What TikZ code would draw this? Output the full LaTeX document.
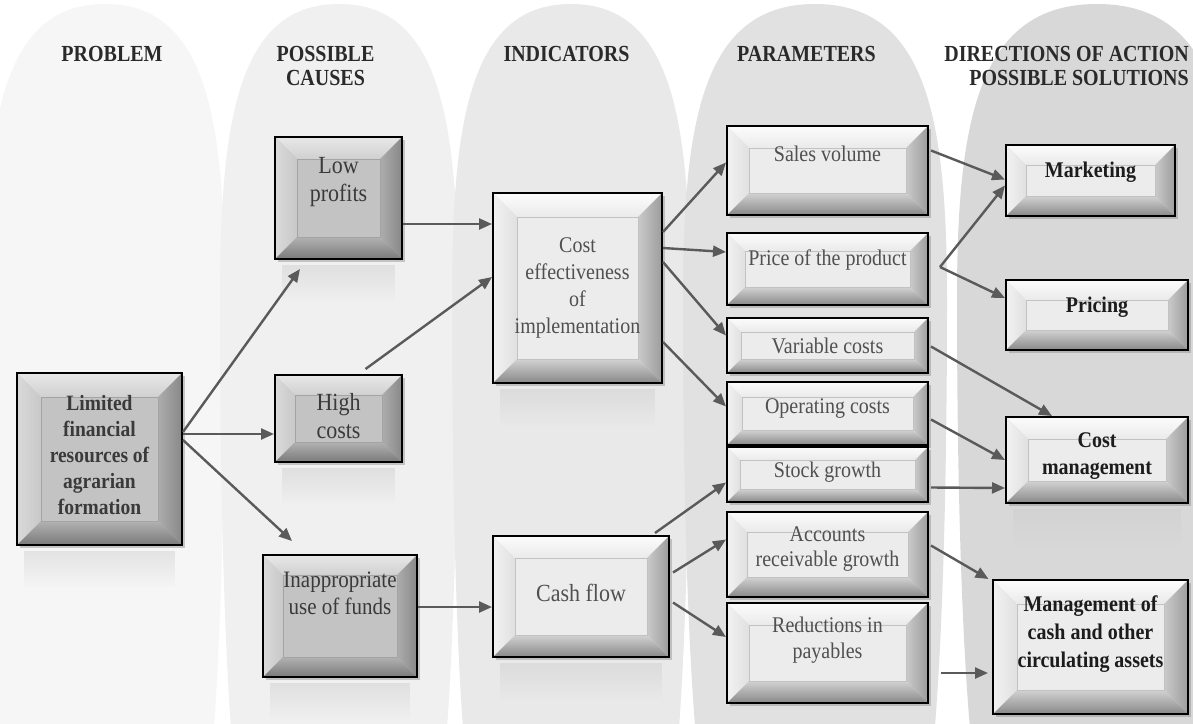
\documentclass[tikz,border=0pt]{standalone}
\usepackage{fontspec}
\setmainfont{Liberation Serif}
\usetikzlibrary{calc,arrows.meta,shadows,fadings}
% bevel colours: white scheme
\definecolor{wTa}{HTML}{FCFCFC}\definecolor{wTb}{HTML}{EAEAEA}
\definecolor{wLa}{HTML}{F2F2F2}\definecolor{wLb}{HTML}{E0E0E0}
\definecolor{wRa}{HTML}{CACACA}\definecolor{wRb}{HTML}{9C9C9C}
\definecolor{wBa}{HTML}{D2D2D2}\definecolor{wBb}{HTML}{888888}
\definecolor{wF}{HTML}{ECECEC}\definecolor{wI}{HTML}{C2C2C2}
% grey scheme
\definecolor{gTa}{HTML}{E8E8E8}\definecolor{gTb}{HTML}{D0D0D0}
\definecolor{gLa}{HTML}{DADADA}\definecolor{gLb}{HTML}{C8C8C8}
\definecolor{gRa}{HTML}{ADADAD}\definecolor{gRb}{HTML}{888888}
\definecolor{gBa}{HTML}{B2B2B2}\definecolor{gBb}{HTML}{7A7A7A}
\definecolor{gF}{HTML}{C3C3C3}\definecolor{gI}{HTML}{A4A4A4}
% others
\definecolor{txg}{HTML}{505050}
\definecolor{txd}{HTML}{3A3A3A}
\definecolor{txb}{HTML}{1C1C1C}
\definecolor{txh}{HTML}{2A2A2A}
\definecolor{arrc}{HTML}{5A5A5A}
\definecolor{arcA}{HTML}{F6F6F6}
\definecolor{arcB}{HTML}{F0F0F1}
\definecolor{arcC}{HTML}{E9E9EA}
\definecolor{arcD}{HTML}{E1E1E1}
\definecolor{arcE}{HTML}{D8D8D8}
\tikzfading[name=fadedown, top color=transparent!55, bottom color=transparent!100]
\newcommand\bevelpic[2]{%
 \coordinate (bvNW) at (path picture bounding box.north west);
 \coordinate (bvNE) at (path picture bounding box.north east);
 \coordinate (bvSW) at (path picture bounding box.south west);
 \coordinate (bvSE) at (path picture bounding box.south east);
 \coordinate (bvnw) at ($(bvNW)+(#2pt,-#2pt)$);
 \coordinate (bvne) at ($(bvNE)+(-#2pt,-#2pt)$);
 \coordinate (bvsw) at ($(bvSW)+(#2pt,#2pt)$);
 \coordinate (bvse) at ($(bvSE)+(-#2pt,#2pt)$);
 \shade[top color=#1Ta, bottom color=#1Tb] (bvNW)--(bvNE)--(bvne)--(bvnw)--cycle;
 \shade[left color=#1La, right color=#1Lb] (bvNW)--(bvnw)--(bvsw)--(bvSW)--cycle;
 \shade[left color=#1Ra, right color=#1Rb] (bvNE)--(bvne)--(bvse)--(bvSE)--cycle;
 \shade[top color=#1Ba, bottom color=#1Bb] (bvSW)--(bvsw)--(bvse)--(bvSE)--cycle;
 \draw[#1I, line width=0.9pt, fill=#1F] (bvnw) rectangle (bvse);
}
\newcommand\archshape[3]{%
 \fill[#3] (#1,4) .. controls ({#1+0.85*#2},4) and ({#1+#2},120) .. ({#1+#2},300)
  .. controls ({#1+#2},500) and ({#1+0.96*#2},650) .. ({#1+0.9*#2},740)
  -- ({#1-0.9*#2},740) .. controls ({#1-0.96*#2},650) and ({#1-#2},500) .. ({#1-#2},300)
  .. controls ({#1-#2},120) and ({#1-0.85*#2},4) .. (#1,4) -- cycle;}
\begin{document}
\begin{tikzpicture}[x=1pt,y=-1pt,
  bx/.style={rectangle, draw=black, line width=2pt, inner sep=0pt,
    drop shadow={shadow xshift=2.5pt, shadow yshift=-3pt, opacity=0.4}},
  gbox/.style={bx, fill=gF, path picture={\bevelpic{g}{#1}}},
  gbox/.default=22,
  wbox/.style={bx, fill=wF, path picture={\bevelpic{w}{#1}}},
  wbox/.default=22,
  tx/.style={align=center, inner sep=0pt, yscale=1.12, text=txg, font=\fontsize{20}{24}\selectfont},
  tg/.style={align=center, inner sep=0pt, yscale=1.12, text=txd, font=\fontsize{22}{25}\selectfont},
  tb/.style={align=center, inner sep=0pt, yscale=1.12, text=txb, font=\bfseries\fontsize{20}{24}\selectfont},
  hd/.style={align=center, inner sep=0pt, yscale=1.15, text=txh, font=\bfseries\fontsize{20}{21.7}\selectfont},
  arr/.style={draw=arrc, line width=2.4pt, -{Triangle[length=13pt,width=11pt]}},
  refl/.style={fill=gray!40, path fading=fadedown}
]
\useasboundingbox (0,0) rectangle (1193,723);
% ---------- background arches
\fill[white] (0,0) rectangle (1193,723);
\begin{scope}
\clip (0,0) rectangle (1193,723);
\archshape{105}{120}{arcA}
\archshape{339}{119}{arcB}
\archshape{571}{119}{arcC}
\archshape{815}{132}{arcD}
\archshape{1097}{140}{arcE}
\end{scope}
% ---------- headers
\node[hd] (hProb) at (112,54) {PROBLEM};
\node[hd] (hCause) at (325.5,66) {POSSIBLE\\CAUSES};
\node[hd] (hInd) at (566.5,54) {INDICATORS};
\node[hd] (hPar) at (806.5,54) {PARAMETERS};
\node[hd, align=right, anchor=east] (hDir) at (1189,66) {DIRECTIONS OF ACTION\\POSSIBLE SOLUTIONS};
% ---------- boxes
\node[gbox=24, minimum width=165pt, minimum height=172pt] (lim) at (99.5,459) {};
\node[gbox=22, minimum width=127pt, minimum height=122pt] (lowp) at (338.5,198) {};
\node[gbox=20, minimum width=127pt, minimum height=87pt] (high) at (338.5,418.5) {};
\node[gbox=20, minimum width=154pt, minimum height=122pt] (inap) at (340,616) {};
\node[wbox=24, minimum width=169pt, minimum height=190pt] (cost) at (577.5,288) {};
\node[wbox=22, minimum width=176pt, minimum height=121pt] (cash) at (581,596.5) {};
\node[wbox=22, minimum width=201pt, minimum height=89pt] (sales) at (827.5,170.5) {};
\node[wbox=18, minimum width=201pt, minimum height=72pt] (price) at (827.5,269) {};
\node[wbox=14, minimum width=201pt, minimum height=55pt] (var) at (827.5,345.5) {};
\node[wbox=15, minimum width=201pt, minimum height=63pt] (oper) at (827.5,413.5) {};
\node[wbox=13, minimum width=201pt, minimum height=55pt] (stock) at (827.5,474.5) {};
\node[wbox=20, minimum width=201pt, minimum height=85pt] (acc) at (827.5,554.5) {};
\node[wbox=22, minimum width=201pt, minimum height=100pt] (red) at (827.5,653) {};
\node[wbox=20, minimum width=169pt, minimum height=71pt] (mkt) at (1090.5,180.5) {};
\node[wbox=20, minimum width=182pt, minimum height=70pt] (pric) at (1097,315) {};
\node[wbox=22, minimum width=182pt, minimum height=86pt] (cmg) at (1097,460) {};
\node[wbox=24, minimum width=195pt, minimum height=134pt] (mcash) at (1090.5,647) {};
% ---------- reflections
\foreach \b in {lim,lowp,high,inap,cost,cash,cmg}{
  \fill[refl] ($(\b.south west)+(8,5)$) rectangle ($(\b.south east)+(-8,42)$);
}
% ---------- box texts
\node[tb, text=txd, font=\bfseries\fontsize{19.5}{23.2}\selectfont] (lim-t) at ($(lim.center)+(0,-4)$) {Limited\\financial\\resources of\\agrarian\\formation};
\node[tg] (lowp-t) at ($(lowp.center)+(0,-16)$) {Low\\profits};
\node[tg] (high-t) at ($(high.center)+(0,-2)$) {High\\costs};
\node[tg, font=\fontsize{21}{24}\selectfont] (inap-t) at ($(inap.center)+(0,-23)$) {Inappropriate\\use of funds};
\node[tx] (cost-t) at ($(cost.center)+(0,0)$) {Cost\\effectiveness\\of\\implementation};
\node[tx, font=\fontsize{22}{25}\selectfont] (cash-t) at ($(cash.center)+(0,-4)$) {Cash flow};
\node[tx] (sales-t) at ($(sales.center)+(0,-17)$) {Sales volume};
\node[tx] (price-t) at ($(price.center)+(0,-9)$) {Price of the product};
\node[tx] (var-t) at ($(var.center)+(0,0)$) {Variable costs};
\node[tx] (oper-t) at ($(oper.center)+(0,-5)$) {Operating costs};
\node[tx] (stock-t) at ($(stock.center)+(0,-2)$) {Stock growth};
\node[tx, font=\fontsize{20}{22.3}\selectfont] (acc-t) at ($(acc.center)+(0,-5)$) {Accounts\\receivable growth};
\node[tx, font=\fontsize{20}{23.2}\selectfont] (red-t) at ($(red.center)+(0,-13)$) {Reductions in\\payables};
\node[tb] (mkt-t) at ($(mkt.center)+(0,-8)$) {Marketing};
\node[tb] (pric-t) at ($(pric.center)+(0,-8)$) {Pricing};
\node[tb] (cmg-t) at ($(cmg.center)+(0,-4)$) {Cost\\management};
\node[tb, font=\bfseries\fontsize{20}{25}\selectfont] (mcash-t) at ($(mcash.center)+(0,-13)$) {Management of\\cash and other\\circulating assets};
% ---------- connectors
\coordinate (pv) at ($(price.east)+(11,-2)$);
\draw[arr] ($(lim.east)+(0,-27)$) -- ($(lowp.south)+(-38.5,9)$);
\draw[arr] ($(lim.east)+(0,-25)$) -- ($(high.west)+(0,15.5)$);
\draw[arr] ($(lim.east)+(0,-19)$) -- ($(inap.north)+(-48,-13)$);
\draw[arr] ($(lowp.east)+(0,26)$) -- ($(cost.west)+(0,-64)$);
\draw[arr] ($(high.north)+(27,-5)$) -- ($(cost.west)+(0,-11)$);
\draw[arr] ($(inap.east)+(0,-9)$) -- ($(cash.west)+(0,10.5)$);
\draw[arr] ($(cost.east)+(0,-56)$) -- ($(sales.west)+(0,-8)$);
\draw[arr] ($(cost.east)+(0,-40)$) -- ($(price.west)+(0,-17)$);
\draw[arr] ($(cost.east)+(0,-26)$) -- ($(var.west)+(0,-10)$);
\draw[arr] ($(cost.east)+(0,54)$) -- ($(oper.west)+(0,-7)$);
\draw[arr] ($(cash.north)+(74,-2)$) -- ($(stock.west)+(0,8)$);
\draw[arr] ($(cash.east)+(3,-24)$) -- ($(acc.west)+(0,-15)$);
\draw[arr] ($(cash.east)+(3,6)$) -- ($(red.west)+(0,-16)$);
\draw[arr] ($(sales.east)+(2,-20)$) -- ($(mkt.west)+(0,-1)$);
\draw[arr] (pv) -- ($(mkt.west)+(0,5)$);
\draw[arr] (pv) -- ($(pric.west)+(0,-17)$);
\draw[arr] ($(var.east)+(2,1)$) -- ($(cmg.north)+(-45,0)$);
\draw[arr] ($(oper.east)+(2,6)$) -- (cmg.west);
\draw[arr] ($(stock.east)+(2,13)$) -- ($(cmg.west)+(0,28)$);
\draw[arr] ($(acc.east)+(2,-9)$) -- ($(mcash.north)+(-102,0)$);
\draw[arr] ($(red.east)+(12,20)$) -- ($(mcash.west)+(-4,26)$);
\end{tikzpicture}
\end{document}
